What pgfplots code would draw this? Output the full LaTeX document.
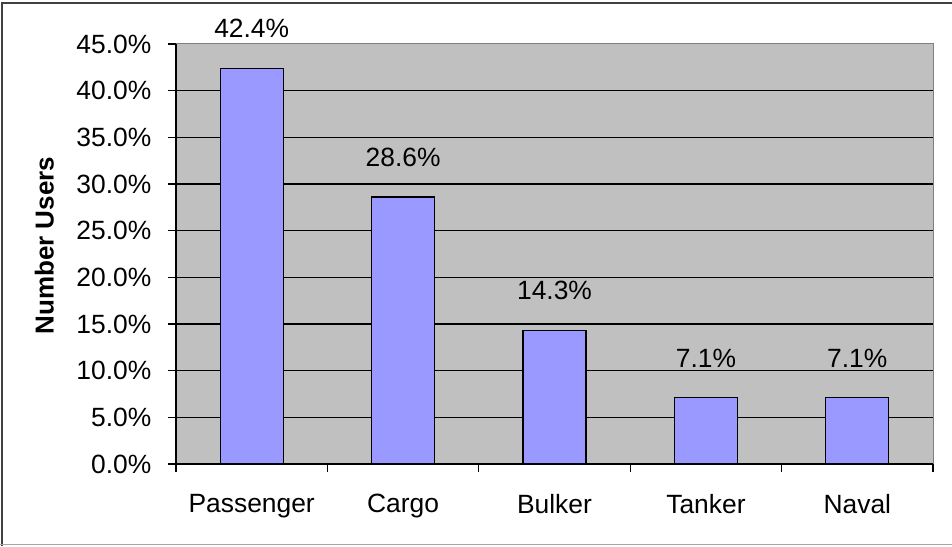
\documentclass[border=0pt]{standalone}
\usepackage{pgfplots}
\pgfplotsset{compat=1.18}
\usepackage{fontspec}
\setmainfont{Liberation Sans}
\definecolor{barfill}{HTML}{9999FF}
\definecolor{plotbg}{HTML}{C0C0C0}
\begin{document}
\begin{tikzpicture}
\useasboundingbox (0,0) rectangle (714pt,409.5pt);
\draw[black!75, line width=1.5pt] (1.5pt,0pt) -- (1.5pt,407.5pt) -- (714pt,407.5pt);
\draw[black!35, line width=1pt] (0pt,0.9pt) -- (714pt,0.9pt);
\begin{axis}[
  at={(132pt,61.5pt)}, anchor=south west,
  scale only axis, width=567.75pt, height=315pt,
  xmin=-0.5, xmax=4.5, ymin=0, ymax=45,
  axis background/.style={fill=plotbg, draw=black!50, line width=0.75pt},
  axis x line*=bottom, axis y line*=left,
  axis line style={black, line width=0.9pt},
  tick align=outside, tick pos=left,
  major tick length=6pt,
  tick style={black, line width=0.9pt},
  xtick={-0.5,0.5,1.5,2.5,3.5,4.5},
  xticklabels={},
  extra x ticks={0,1,2,3,4},
  extra x tick labels={Passenger,Cargo,Bulker,Tanker,Naval},
  extra x tick style={major tick length=0pt, grid=none,
    xticklabel style={yshift=-19pt}},
  ytick={0,5,...,40},
  extra y ticks={45},
  extra y tick style={grid=none},
  ymajorgrids,
  grid style={black, line width=0.8pt},
  /pgf/number format/assume math mode=true,
  yticklabel={\pgfmathprintnumber[fixed,fixed zerofill,precision=1]{\tick}\%},
  yticklabel style={xshift=-9pt},
  ylabel={\bfseries Number Users},
  ylabel style={at={(axis description cs:-0.174,0.52)}, anchor=center, font=\fontsize{19.5}{22}\selectfont\bfseries},
  ticklabel style={font=\fontsize{19.8}{22}\selectfont},
  every node near coord/.append style={font=\fontsize{19.8}{22}\selectfont, anchor=base, yshift=23pt},
  nodes near coords={\pgfmathprintnumber[fixed,fixed zerofill,precision=1]{\pgfplotspointmeta}\%},
  point meta=y,
]
\addplot[ybar, bar width=0.415, fill=barfill, draw=black, line width=0.9pt] coordinates {
  (0,42.4) (1,28.6) (2,14.3) (3,7.1) (4,7.1)
};
\end{axis}
\end{tikzpicture}
\end{document}
